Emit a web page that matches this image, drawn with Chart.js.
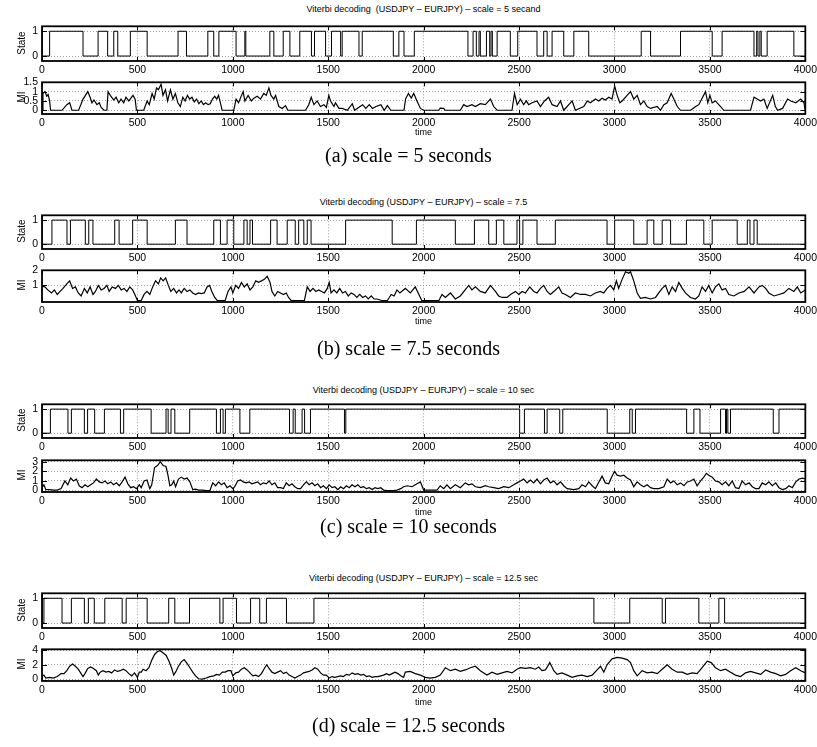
<!DOCTYPE html>
<html>
<head>
<meta charset="utf-8">
<script src="https://cdn.jsdelivr.net/npm/chart.js@4.4.1/dist/chart.umd.min.js"></script>
<style>
  body { margin: 0; background: #fff; width: 817px; height: 747px; position: relative; overflow: hidden; font-family: "Liberation Sans", Arial, sans-serif; }
  canvas { position: absolute; left: 0; }
  .ttl { position: absolute; left: 42px; width: 763px; text-align: center; font-size: 9px; line-height: 10px; white-space: pre; }
  .tm { position: absolute; left: 42px; width: 763px; text-align: center; font-size: 9px; line-height: 10px; }
  .cap { position: absolute; left: 0; width: 817px; text-align: center; font-family: "Liberation Serif", "Times New Roman", serif; font-size: 20px; line-height: 22px; }
  .yl { position: absolute; width: 60px; text-align: center; font-size: 10px; line-height: 12px; transform: rotate(-90deg); }
</style>
</head>
<body>
<script>
// x axis ticks shared by all panels
var xTicks = [0, 500, 1000, 1500, 2000, 2500, 3000, 3500, 4000];
var stateTicks = [0, 1];

// (a) scale = 5 s
var stateTimeA = [0,40,215,294,344,376,397,463,551,713,757,869,900,927,1017,1063,1068,1194,1215,1264,1299,1351,1412,1428,1486,1517,1565,1573,1661,1678,1841,1870,1897,1951,2232,2259,2276,2290,2297,2329,2346,2353,2360,2385,2454,2493,2594,2629,2647,2673,2734,2787,2865,3140,3189,3346,3512,3564,3731,3745,3752,3762,3769,3800,3940,3989,4000];
var stateValA  = [1,0,1,0,1,0,1,0,1,0,1,0,1,0,1,0,1,0,1,0,1,0,1,0,1,0,1,0,1,0,1,0,1,0,1,0,1,0,1,0,1,0,1,0,1,0,1,0,1,0,1,0,1,0,1,0,1,0,1,0,1,0,1,0,1,0,0];
var miTimeA = [0,5,15,25,32,40,45,105,130,145,157,192,215,240,252,262,272,288,300,310,325,340,346,358,376,388,402,414,428,440,455,466,477,488,495,533,551,562,577,588,600,610,624,634,647,658,673,686,699,712,725,738,750,762,774,786,798,810,822,834,846,858,870,882,893,905,916,925,935,944,1005,1017,1030,1054,1063,1080,1097,1110,1128,1145,1162,1175,1189,1200,1215,1224,1241,1259,1276,1288,1381,1398,1411,1425,1442,1459,1477,1490,1503,1512,1530,1538,1556,1573,1600,1626,1638,1680,1697,1715,1732,1750,1776,1793,1810,1828,1897,1905,1920,1935,1948,1965,1983,2000,2079,2087,2105,2112,2192,2210,2227,2253,2271,2297,2323,2350,2367,2385,2463,2476,2490,2507,2524,2538,2550,2568,2594,2612,2633,2655,2673,2699,2717,2734,2769,2778,2795,2839,2857,2874,2900,2918,2935,2952,2970,2987,3001,3014,3028,3040,3066,3084,3101,3119,3136,3154,3171,3189,3224,3241,3259,3276,3297,3311,3329,3346,3399,3425,3442,3477,3489,3500,3512,3529,3556,3573,3713,3731,3748,3766,3783,3800,3829,3843,3855,3881,3907,3924,3950,3976,3993,4000];
var miValA = [0,0.9,1.0,0.75,0.85,0.5,0,0,0.3,0.4,0,0,0.6,1.0,0.7,0.4,0.55,0.3,0.4,0.15,0,0,1.0,0.8,0.55,0.7,0.4,0.6,0.4,0.7,0.5,0.65,0.8,0.6,0,0,0.5,0.3,0.9,0.6,1.2,1.1,1.4,0.8,1.1,0.5,1.1,0.6,0.9,0.4,0.2,0.7,0.5,0.8,0.6,0.7,0.45,0.6,0.35,0.5,0.3,0.4,0.3,0.35,0.6,0.75,0.6,0.8,0.4,0,0,0.6,0.4,1.0,0.5,0.8,0.5,0.65,0.75,0.6,0.9,0.8,1.2,0.8,0.6,0.8,0.2,0.1,0.25,0,0,0.3,0.7,0.3,0.5,0.2,0.3,0.15,0.8,0.5,0.2,0.4,0.1,0.1,0,0.35,0,0.3,0.1,0.3,0.1,0.2,0.3,0,0.25,0,0,0.6,0.9,0.65,0.9,0.5,0.1,0,0,0.12,0.1,0,0,0.3,0.2,0.3,0.2,0.35,0.3,0.6,0.2,0,0,0.9,0.3,0.6,0.3,0.5,0.3,0.4,0.5,0.2,0.5,0.7,0.3,0.2,0.5,0,0.4,0.5,0,0.2,0.5,0.4,0.6,0.5,0.65,0.55,0.7,0.6,1.3,0.8,0.4,0.5,0.8,1.0,0.6,0.8,0.3,0.5,0.2,0.1,0.2,0,0.3,0.4,0.9,0.6,0.2,0,0,0.2,0.3,1.0,0.4,0.8,0.4,0.5,0.2,0,0,0.7,0.6,0.5,0.6,0.1,0.8,0.2,0,0.1,0.6,0.5,0.4,0.6,0.4,0];
var miTicksA = [0, 0.5, 1, 1.5];

// (b) scale = 7.5 s
var stateTimeB = [0,52,131,149,227,245,267,381,404,475,551,699,760,900,935,970,1005,1058,1075,1090,1103,1198,1232,1285,1327,1345,1372,1390,1410,1591,1835,1962,2166,2266,2341,2381,2420,2489,2503,2520,2594,2690,2961,3001,3101,3171,3206,3250,3294,3377,3468,3512,3643,3696,3710,3731,3748,3949,4000];
var stateValB  = [1,0,1,0,1,0,1,0,1,0,1,0,1,0,1,0,1,0,1,0,1,0,1,0,1,0,1,0,1,0,1,0,1,0,1,0,1,0,1,0,1,0,1,0,1,0,1,0,1,0,1,0,1,0,1,0,1,0,0];
var miTimeB = [0,15,30,50,65,80,95,110,130,145,160,175,190,205,222,237,252,267,280,295,310,325,340,352,368,385,400,415,430,445,460,475,490,500,520,535,550,565,580,595,610,622,635,648,662,675,690,705,718,730,745,760,775,790,805,820,835,850,865,878,890,905,918,960,975,990,1000,1015,1030,1045,1060,1075,1090,1105,1120,1135,1150,1165,1180,1195,1205,1220,1235,1250,1265,1280,1292,1305,1375,1390,1405,1420,1435,1450,1465,1480,1495,1505,1515,1530,1545,1560,1575,1590,1605,1620,1635,1650,1665,1680,1695,1710,1725,1740,1755,1780,1810,1830,1845,1860,1875,
  1904,1930,1956,1979,1990,2080,2096,2114,2140,2166,2192,2236,2253,2271,2297,2323,2350,2376,2393,2411,2437,2455,2481,2498,2516,2533,2556,2577,2594,2612,2629,2647,2664,2682,2708,2725,2743,2769,2795,2822,2848,2874,2900,2926,2944,2961,2979,2996,3010,3022,3040,3058,3075,3084,3101,3119,3136,3162,3189,3215,3232,3250,3267,3285,3302,3320,3337,3355,3372,3398,3424,3442,3459,3477,3494,3512,3529,3547,3564,3582,3599,3626,3652,3680,3705,3731,3757,3774,3792,3809,3836,3862,3888,3914,3940,3958,3976,4000];
var miValB = [0.95,0.9,0.7,0.5,0.7,0.4,0.6,0.8,1.1,1.3,0.8,0.9,0.5,0.3,0.8,0.5,0.9,0.4,0.6,1.0,0.7,0.8,1.0,0.6,0.9,0.8,1.0,0.7,0.8,0.6,0.9,0.7,0.3,0,0,0.4,0.6,0.4,0.9,1.3,1.1,1.5,1.3,1.5,1.0,0.6,0.8,0.5,0.7,0.5,0.8,0.6,0.7,0.5,0.4,0.5,0.45,0.5,0.9,1.0,0.6,0.2,0,0,0.6,0.9,0.5,1.0,0.8,1.2,0.9,1.1,0.7,0.9,1.3,1.2,1.3,1.4,1.6,1.2,0.6,0.3,0.6,0.5,0.4,0.5,0.2,0,0,0.9,0.6,0.8,0.6,0.7,0.6,0.5,0.8,1.2,0.5,0.7,0.5,0.8,0.5,0.6,0.3,0.5,0.4,0.2,0.4,0.2,0.3,0.1,0.3,0.1,0.1,0,0,0.4,0.3,0.7,0.5,
  0.8,0.5,0.9,0.3,0,0,0.4,0.2,0.5,0.1,0.3,1.0,0.7,0.9,0.6,0.5,1.0,0.6,0.3,0.2,0.2,0.4,0.6,0.4,0.6,0.5,0.9,0.6,0.5,0.8,1.0,0.6,0.4,0.6,0.9,0.5,0.4,0.2,0.5,0.4,0.4,0.3,0.5,0.6,0.5,0.8,1.0,0.7,1.3,0.8,1.4,1.9,1.8,1.9,1.3,0.5,0.15,0.2,0.1,0.2,0.5,0.8,1.0,0.4,0.9,0.6,1.2,0.8,0.5,0.2,0.1,0.3,0.9,0.6,1.0,0.5,0.9,1.1,0.7,0.8,0.4,0.3,0.5,0.6,0.9,0.5,0.9,1.0,0.8,0.5,0.3,0.4,0.5,0.8,0.6,0.9,0.5,0.7];
var miTicksB = [1, 2];

// (c) scale = 10 s
var stateTimeC = [0,44,136,154,222,239,276,327,411,428,572,650,661,676,696,774,914,935,949,961,1037,1089,1297,1316,1327,1363,1376,1407,1585,1592,2503,2528,2633,2647,2713,2729,2962,3080,3093,3110,3378,3416,3448,3556,3582,3587,3594,3608,3832,3862,3954,4000];
var stateValC  = [1,0,1,0,1,0,1,0,1,0,1,0,1,0,1,0,1,0,1,0,1,0,1,0,1,0,1,0,1,0,1,0,1,0,1,0,1,0,1,0,1,0,1,0,1,0,1,0,1,0,1,1];
var miTimeC = [0,10,20,40,60,80,100,120,135,150,165,180,195,210,225,240,255,270,285,300,315,330,345,360,375,390,405,420,435,450,465,480,495,510,520,535,550,565,575,590,605,620,635,650,660,670,680,690,700,715,730,745,760,775,790,805,820,840,860,880,895,910,925,940,955,970,985,1000,1010,1025,1040,1055,1070,1085,1100,1115,1130,1145,1160,1175,1190,1205,1220,1235,1250,1265,1280,1295,1310,1325,1340,1355,1370,1385,1400,1415,1430,1445,1460,1475,1490,1505,1520,1535,1550,1565,1580,1595,1610,1625,1640,1655,1670,1685,1700,1715,1730,1745,1760,1775,1790,1810,1840,1860,1880,1895,1913,
  1939,1965,1983,2000,2035,2070,2087,2105,2122,2140,2166,2192,2218,2236,2253,2271,2297,2323,2341,2367,2393,2420,2446,2472,2489,2507,2524,2542,2559,2577,2594,2612,2629,2647,2664,2682,2699,2717,2734,2752,2787,2813,2830,2848,2865,2883,2900,2918,2935,2952,2970,2987,3000,3014,3031,3049,3066,3084,3101,3119,3136,3154,3171,3189,3206,3232,3259,3276,3294,3311,3329,3346,3364,3381,3398,3416,3433,3451,3468,3482,3494,3512,3529,3547,3564,3582,3599,3617,3634,3652,3669,3687,3705,3722,3739,3757,3774,3792,3809,3827,3845,3862,3880,3897,3914,3932,3950,3967,3985,4000];
var miValC = [0.3,0.6,0.1,0.1,0.05,0.05,0.2,1.0,0.6,1.3,1.0,1.2,0.5,0.3,0.6,0.4,0.6,0.8,1.2,0.9,0.8,1.0,0.7,0.9,0.6,0.8,0.5,0.9,1.4,0.7,0.3,0.4,0.2,0.6,0.3,1.0,1.1,0.2,0.6,2.4,2.6,3.0,2.6,2.5,1.6,0.5,0.6,1.0,0.4,1.2,1.4,1.2,1.3,0.9,0.1,0.15,0.05,0.05,0,0,0.8,0.5,0.9,0.6,0.8,0.3,0.5,0.2,0.4,1.0,1.1,0.9,0.8,0.9,0.7,0.8,0.9,0.6,0.8,0.7,1.0,0.6,0.8,0.3,0.3,0.2,0.8,0.5,0.7,0.4,0.2,0.2,0.6,0.9,0.6,0.8,0.5,0.7,0.3,0.5,0.2,0.6,0.3,0.4,0.1,0.4,0.2,0.5,0.3,0.6,0.4,0.6,0.3,0.4,0.2,0.3,0.1,0.3,0.2,0.3,0.05,0,0,0.05,0.2,0.4,0.5,
  0.4,0.7,0.9,0.05,0.05,0.05,0.5,0.2,0.6,0.2,0.6,0.3,0.8,0.6,0.7,0.4,0.3,0.5,0.4,0.3,0.2,0.4,0.3,0.6,0.8,1.0,1.2,0.8,1.1,0.8,1.2,0.7,1.1,1.3,0.8,1.0,0.6,0.9,0.5,0.2,0.1,0.2,0.6,0.4,0.9,0.5,0.2,0.9,1.5,0.8,0.7,1.5,2.0,1.6,1.5,1.6,1.3,1.1,0.4,0.9,0.6,0.4,0.6,0.3,0.2,0.2,0.4,1.2,0.8,1.0,0.6,0.8,0.5,0.9,1.0,1.2,0.5,1.0,1.4,1.8,1.6,1.4,1.0,0.9,0.6,0.9,0.5,1.0,0.3,0.2,1.0,0.6,0.8,0.4,0.2,0.2,0.8,0.6,0.9,0.5,0.8,0.3,0.1,0.2,0.5,0.3,0.9,1.2,1.3,1.2];
var miTicksC = [0, 1, 2, 3];

// (d) scale = 12.5 s
var stateTimeD = [0,10,105,154,222,243,274,329,420,441,551,664,696,773,932,949,1019,1093,1141,1176,1281,1425,2892,3080,3250,3267,3442,3547,3577,3600,4000];
var stateValD  = [1,0,1,0,1,0,1,0,1,0,1,0,1,0,1,0,1,0,1,0,1,0,1,0,1,0,1,0,1,0,0];
var miTimeD = [0,10,20,40,60,80,100,115,130,145,160,175,190,205,215,225,240,255,270,285,295,305,320,335,350,365,380,395,410,425,440,455,470,485,500,510,520,530,545,560,575,590,605,620,635,650,665,680,690,700,715,730,745,760,775,790,805,820,840,860,880,900,915,930,945,960,975,990,1000,1015,1030,1045,1060,1075,1090,1105,1120,1135,1150,1165,1178,1190,1205,1220,1235,1250,1265,1280,1295,1310,1325,1340,1355,1370,1385,1400,1415,1430,1445,1460,1475,1490,1505,1520,1535,1550,1565,1580,1595,1610,1625,1640,1655,1670,1685,1700,1715,1730,1745,1760,1775,1790,1805,1820,1835,1850,1865,1880,1895,
  1904,1930,1956,1983,2009,2035,2061,2087,2114,2140,2166,2192,2218,2245,2271,2297,2315,2332,2358,2385,2411,2437,2463,2489,2507,2533,2559,2585,2603,2620,2638,2661,2682,2699,2725,2752,2778,2804,2830,2857,2883,2909,2927,2944,2961,2987,3014,3040,3066,3084,3101,3119,3145,3171,3197,3224,3250,3276,3302,3329,3355,3381,3407,3433,3459,3486,3507,3529,3556,3582,3608,3634,3661,3687,3713,3739,3766,3792,3818,3845,3871,3897,3923,3950,3976,4000];
var miValD = [0.4,0.6,0.2,0.3,0.2,0.4,0.8,0.8,1.2,1.8,2.1,1.8,1.4,0.8,0.4,0.8,1.5,1.7,1.5,1.2,0.6,1.0,1.2,1.0,1.1,0.9,1.3,1.1,1.2,1.4,1.2,0.8,0.5,0.9,0.3,1.0,1.0,1.4,1.2,1.6,2.6,3.4,3.8,3.9,3.6,3.3,2.5,1.5,0.6,1.0,1.8,2.4,2.7,2.2,1.6,1.0,0.5,0.1,0.05,0.2,0.4,0.5,0.7,0.6,1.0,1.0,1.2,1.2,0.5,0.9,1.0,1.4,1.6,1.3,0.9,0.5,0.6,0.4,0.8,1.5,2.0,1.5,1.0,0.8,1.0,1.2,0.8,1.0,0.6,0.4,0.2,0.4,0.6,0.9,1.0,1.1,1.3,1.6,1.4,0.9,0.6,0.6,0.2,0.4,0.3,0.4,0.5,0.4,0.7,0.6,0.9,0.7,0.8,0.6,0.7,0.4,0.5,0.3,0.4,0.4,0.5,0.6,0.8,0.6,0.8,1.0,0.8,0.5,0.3,
  1.0,1.1,0.8,0.6,0.3,0.2,0.3,0.6,1.6,1.2,1.4,1.1,1.3,1.6,1.8,1.2,0.9,0.6,1.0,0.7,0.9,1.1,0.9,1.4,1.6,1.5,1.6,1.4,1.7,1.2,1.3,2.3,1.2,0.7,0.9,0.6,0.3,0.5,0.6,0.4,0.6,1.3,1.8,1.0,2.0,2.8,3.0,2.9,2.7,2.3,1.2,0.5,1.2,0.9,1.0,0.8,1.4,2.0,1.4,1.0,1.0,0.7,0.9,0.8,1.6,2.5,2.3,1.6,1.2,1.4,1.0,0.6,0.4,0.9,1.1,0.9,0.7,1.3,1.0,0.8,0.5,0.7,1.2,1.6,1.2,0.9];
var miTicksD = [0, 2, 4];

var FONT = '"Liberation Sans", Arial, sans-serif';

// black box round the plot area plus inward tick marks, like matlab axes
var framePlugin = {
  id: 'frame',
  afterDraw: function(chart) {
    var a = chart.chartArea, ctx = chart.ctx;
    var xs = chart.scales.x, ys = chart.scales.y;
    ctx.save();
    ctx.strokeStyle = '#000';
    ctx.lineWidth = 1;
    ctx.beginPath();
    xs.ticks.forEach(function(t) {
      var px = Math.round(xs.getPixelForValue(t.value)) + 0.5;
      ctx.moveTo(px, a.top); ctx.lineTo(px, a.top + 4);
      ctx.moveTo(px, a.bottom); ctx.lineTo(px, a.bottom - 4);
    });
    ys.ticks.forEach(function(t) {
      var py = Math.round(ys.getPixelForValue(t.value)) + 0.5;
      ctx.moveTo(a.left, py); ctx.lineTo(a.left + 5, py);
      ctx.moveTo(a.right, py); ctx.lineTo(a.right - 5, py);
    });
    ctx.stroke();
    ctx.lineWidth = 1.8;
    ctx.strokeRect(a.left, a.top, a.right - a.left, a.bottom - a.top);
    ctx.restore();
  }
};

function toPoints(ts, vs) {
  return ts.map(function(t, i) { return { x: t, y: vs[i] }; });
}

function plainLabel(v) { return String(v); }

function addText(cls, text, top, extra) {
  var d = document.createElement('div');
  d.className = cls;
  d.textContent = text;
  d.style.top = top + 'px';
  if (extra) d.style.left = extra + 'px';
  document.body.appendChild(d);
}

function makeChart(boxTop, boxBottom, points, stepped, yMin, yMax, yTicks) {
  var c = document.createElement('canvas');
  c.width = 820;
  c.height = boxBottom - boxTop + 8 + 16;
  c.style.top = (boxTop - 8) + 'px';
  document.body.appendChild(c);
  return new Chart(c, {
    type: 'line',
    data: {
      datasets: [{
        data: points,
        borderColor: '#000',
        borderWidth: stepped ? 1 : 1.2,
        pointRadius: 0,
        stepped: stepped ? 'after' : false,
        tension: 0,
        fill: false
      }]
    },
    options: {
      responsive: false,
      animation: false,
      devicePixelRatio: 1,
      layout: { padding: { top: 8, right: 9, left: 0, bottom: 0 }, autoPadding: false },
      plugins: { legend: { display: false }, tooltip: { enabled: false } },
      scales: {
        x: {
          type: 'linear', min: 0, max: 4000,
          afterBuildTicks: function(s) { s.ticks = xTicks.map(function(v) { return { value: v }; }); },
          afterFit: function(s) { s.height = 16; },
          grid: { color: '#8a8a8a', lineWidth: 0.8, drawTicks: false },
          border: { display: false, dash: [1, 2] },
          ticks: { padding: 3, color: '#000', autoSkip: false, maxRotation: 0, callback: plainLabel, font: { size: 10.5, family: FONT } }
        },
        y: {
          type: 'linear', min: yMin, max: yMax,
          afterBuildTicks: function(s) { s.ticks = yTicks.map(function(v) { return { value: v }; }); },
          afterFit: function(s) { s.width = 42; },
          grid: { color: '#8a8a8a', lineWidth: 0.8, drawTicks: false },
          border: { display: false, dash: [1, 2] },
          ticks: { padding: 4, color: '#000', autoSkip: false, callback: plainLabel, font: { size: 10.5, family: FONT } }
        }
      }
    },
    plugins: [framePlugin]
  });
}

var panels = [
  { title: 'Viterbi decoding  (USDJPY \u2013 EURJPY) \u2013 scale = 5 secand', titleY: 4, st: [24, 61], mi: [80, 114], timeY: 127, capY: 144,
    cap: '(a) scale = 5 seconds', sT: stateTimeA, sV: stateValA, mT: miTimeA, mV: miValA, mMin: -0.2, mMax: 1.5, mTicks: miTicksA },
  { title: 'Viterbi decoding (USDJPY \u2013 EURJPY) \u2013 scale = 7.5', titleY: 197, st: [213, 249], mi: [268, 302], timeY: 316, capY: 337,
    cap: '(b) scale = 7.5 seconds', sT: stateTimeB, sV: stateValB, mT: miTimeB, mV: miValB, mMin: -0.1, mMax: 2, mTicks: miTicksB },
  { title: 'Viterbi decoding (USDJPY \u2013 EURJPY) \u2013 scale = 10 sec', titleY: 385, st: [402, 438], mi: [458, 492], timeY: 507, capY: 515,
    cap: '(c) scale = 10 seconds', sT: stateTimeC, sV: stateValC, mT: miTimeC, mV: miValC, mMin: -0.15, mMax: 3.15, mTicks: miTicksC },
  { title: 'Viterbi decoding (USDJPY \u2013 EURJPY) \u2013 scale = 12.5 sec', titleY: 573, st: [591, 628], mi: [647, 681], timeY: 697, capY: 714,
    cap: '(d) scale = 12.5 seconds', sT: stateTimeD, sV: stateValD, mT: miTimeD, mV: miValD, mMin: -0.2, mMax: 4.1, mTicks: miTicksD }
];

panels.forEach(function(p) {
  addText('ttl', p.title, p.titleY);
  makeChart(p.st[0], p.st[1], toPoints(p.sT, p.sV), true, -0.2, 1.2, stateTicks);
  makeChart(p.mi[0], p.mi[1], toPoints(p.mT, p.mV), false, p.mMin, p.mMax, p.mTicks);
  addText('yl', 'State', (p.st[0] + p.st[1]) / 2 - 6, -8);
  addText('yl', 'MI', (p.mi[0] + p.mi[1]) / 2 - 6, -8);
  addText('tm', 'time', p.timeY);
  addText('cap', p.cap, p.capY);
});
</script>
</body>
</html>
